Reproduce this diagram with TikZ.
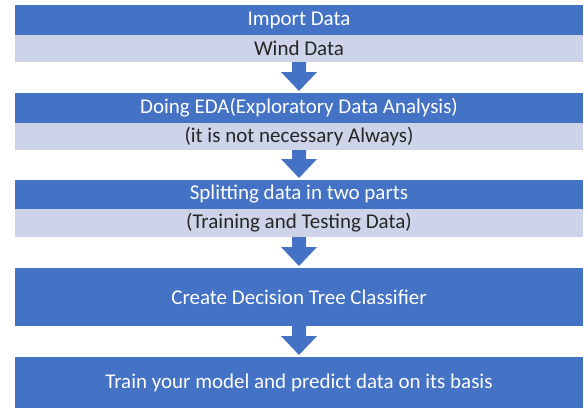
\documentclass[tikz,border=0pt]{standalone}
\usepackage{fontspec}
\setmainfont{Carlito}
\usetikzlibrary{calc}
\definecolor{blueband}{HTML}{4472C4}
\definecolor{grayband}{HTML}{CDD3E8}
\definecolor{darktext}{HTML}{262626}
\tikzset{
  band/.style={anchor=north west, minimum width=568pt, inner sep=0pt, outer sep=0pt, font=\fontsize{21}{24}\selectfont},
  blueb/.style={band, fill=blueband, text=white},
  grayb/.style={band, fill=grayband, text=darktext},
  flowarr/.style={fill=blueband}
}
\newcommand\flowarrow[2]{%
  \fill[flowarr] ($(#1.south)+(-7,0)$) -- ($(#2.north)+(-7,21)$) -- ($(#2.north)+(-18,21)$)
   -- ($(#2.north)+(0,2)$) -- ($(#2.north)+(18,21)$) -- ($(#2.north)+(7,21)$)
   -- ($(#1.south)+(7,0)$) -- cycle;}
\begin{document}
\begin{tikzpicture}[x=1pt,y=1pt]
\useasboundingbox (0,0) rectangle (585,408);
\node[blueb, minimum height=30pt] (imp) at (15,403) {Import Data};
\node[grayb, minimum height=27pt] (wind) at (15,373) {Wind Data};
\node[blueb, minimum height=30pt] (eda) at (15,315) {Doing EDA(Exploratory Data Analysis)};
\node[grayb, minimum height=27pt] (nec) at (15,285) {(it is not necessary Always)};
\node[blueb, minimum height=29pt] (split) at (15,228) {Splitting data in two parts};
\node[grayb, minimum height=28pt] (tt) at (15,199) {(Training and Testing Data)};
\node[blueb, minimum height=58pt] (create) at (15,140) {Create Decision Tree Classifier};
\node[blueb, minimum height=51pt] (train) at (15,51) {Train your model and predict data on its basis};
\flowarrow{wind}{eda}
\flowarrow{nec}{split}
\flowarrow{tt}{create}
\flowarrow{create}{train}
\end{tikzpicture}
\end{document}
